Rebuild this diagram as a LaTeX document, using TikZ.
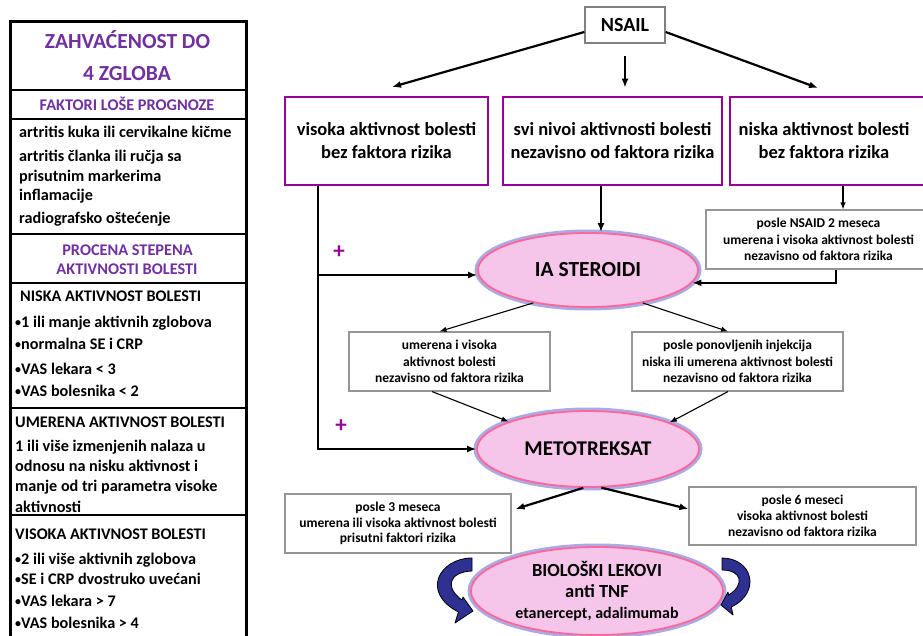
\documentclass[tikz,border=0pt]{standalone}
\usepackage{fontspec}
\setmainfont{Carlito}
\usetikzlibrary{shapes.geometric,arrows.meta}
\definecolor{boxpurple}{RGB}{153,0,153}
\definecolor{headpurple}{RGB}{112,48,160}
\definecolor{pinkfill}{RGB}{246,198,234}
\definecolor{pinkline}{RGB}{255,102,153}
\definecolor{glowc}{RGB}{170,170,228}
\definecolor{grayline}{RGB}{150,150,150}
\definecolor{navyc}{RGB}{46,49,146}
\newcommand{\bul}{\raisebox{1pt}{\fontsize{12}{12}\selectfont •}}
\begin{document}
\begin{tikzpicture}[x=1pt,y=-1pt,
  every node/.style={inner sep=0pt},
  pbox/.style={draw=boxpurple, line width=2.4pt, rectangle, fill=white},
  gbox/.style={draw=grayline, line width=1.1pt, fill=white, rectangle, align=center,
    font=\fontsize{13.5}{16.3}\selectfont\bfseries},
  btext/.style={align=center, font=\fontsize{18.5}{23}\selectfont\bfseries},
  ell/.style={ellipse, draw=pinkline, line width=1.8pt, fill=pinkfill, align=center,
    preaction={draw=glowc, line width=7pt}},
  thk/.style={line width=2.2pt, -{Latex[length=9pt,width=7pt]}},
  thn/.style={line width=1.1pt, -{Latex[length=7pt,width=5.5pt]}},
  ptext/.style={anchor=west, font=\fontsize{16.2}{19}\selectfont\bfseries, text height=11.5pt, text depth=3.7pt},
  phead/.style={font=\fontsize{16.3}{19}\selectfont\bfseries, text=headpurple, text height=10.5pt, text depth=0pt},
  ptitle/.style={font=\fontsize{21.5}{24}\selectfont\bfseries, text=headpurple, text height=13.8pt, text depth=0pt},
  plus/.style={font=\fontsize{23}{24}\selectfont\bfseries, text=boxpurple},
  curv/.style={fill=navyc, draw=black, line width=0.8pt, line join=round}
]
\useasboundingbox (0,0) rectangle (923,636);

% ---------- left panel ----------
\draw[line width=3pt] (10,22) rectangle (246,660);
\foreach \yy in {90,119,234,283,408,515}
  \draw[line width=1.5pt] (10,\yy) -- (246,\yy);

\node[ptitle] (t1) at (127.5,42) {ZAHVAĆENOST DO};
\node[ptitle] (t2) at (127,74) {4 ZGLOBA};
\node[phead] (t3) at (127,105) {FAKTORI LOŠE PROGNOZE};
\node[ptext] (l1) at (19,134) {artritis kuka ili cervikalne kičme};
\node[ptext] (l2) at (19,158) {artritis članka ili ručja sa};
\node[ptext] (l3) at (19,178) {prisutnim markerima};
\node[ptext] (l4) at (19,197) {inflamacije};
\node[ptext] (l5) at (19,220) {radiografsko oštećenje};
\node[phead] (h2a) at (127.5,250) {PROCENA STEPENA};
\node[phead] (h2b) at (127,269) {AKTIVNOSTI BOLESTI};
\node[ptext] (n0) at (20,298) {NISKA AKTIVNOST BOLESTI};
\node[ptext] (n1) at (15,324) {\bul1 ili manje aktivnih zglobova};
\node[ptext] (n2) at (15,346) {\bul normalna SE i CRP};
\node[ptext] (n3) at (15,371) {\bul VAS lekara < 3};
\node[ptext] (n4) at (15,393) {\bul VAS bolesnika < 2};
\node[ptext] (u0) at (15,424) {UMERENA AKTIVNOST BOLESTI};
\node[ptext] (u1) at (15,448) {1 ili više izmenjenih nalaza u};
\node[ptext] (u2) at (15,468) {odnosu na nisku aktivnost i};
\node[ptext] (u3) at (15,488) {manje od tri parametra visoke};
\node[ptext] (u4) at (15,509) {aktivnosti};
\node[ptext] (v0) at (15,536) {VISOKA AKTIVNOST BOLESTI};
\node[ptext] (v1) at (15,561) {\bul2 ili više aktivnih zglobova};
\node[ptext] (v2) at (15,581) {\bul SE i CRP dvostruko uvećani};
\node[ptext] (v3) at (15,603) {\bul VAS lekara > 7};
\node[ptext] (v4) at (15,625) {\bul VAS bolesnika > 4};

% ---------- flow chart ----------
\node[draw=grayline!85!black, line width=1.3pt, minimum width=80pt, minimum height=36pt,
  font=\fontsize{20}{24}\selectfont\bfseries] (ns) at (625,25) {NSAIL};

\node[pbox, btext, minimum width=203pt, minimum height=88pt] (b1) at (386.5,141)
  {visoka aktivnost bolesti\\bez faktora rizika};
\node[pbox, btext, minimum width=219pt, minimum height=88pt] (b2) at (612.5,141)
  {svi nivoi aktivnosti bolesti\\nezavisno od faktora rizika};
\node[pbox, minimum width=195pt, minimum height=88pt] (b3) at (827.5,141) {};
\node[btext] (b3t) at (824,141) {niska aktivnost bolesti\\bez faktora rizika};

\node[gbox, minimum width=225pt, minimum height=59pt] (sbT) at (818.5,239.5)
  {posle NSAID 2 meseca\\umerena i visoka aktivnost bolesti\\nezavisno od faktora rizika};

\node[ell, minimum width=220pt, minimum height=74pt, font=\fontsize{21.5}{24}\selectfont\bfseries]
  (ia) at (588,270) {IA STEROIDI};

\node[gbox, minimum width=201pt, minimum height=59pt] (sbL) at (449.5,361.5)
  {umerena i visoka\\aktivnost bolesti\\nezavisno od faktora rizika};
\node[gbox, minimum width=211pt, minimum height=59pt] (sbR) at (737.5,361.5)
  {posle ponovljenih injekcija\\niska ili umerena aktivnost bolesti\\nezavisno od faktora rizika};

\node[ell, minimum width=222pt, minimum height=76pt, font=\fontsize{21}{24}\selectfont\bfseries]
  (mtx) at (588,449) {METOTREKSAT};

\node[gbox, minimum width=226pt, minimum height=59pt, font=\fontsize{13.5}{15.5}\selectfont\bfseries]
  (sb3) at (398,523.5)
  {posle 3 meseca\\umerena ili visoka aktivnost bolesti\\prisutni faktori rizika};
\node[gbox, minimum width=227pt, minimum height=58pt] (sb6) at (802.5,516)
  {posle 6 meseci\\visoka aktivnost bolesti\\nezavisno od faktora rizika};

\node[ell, minimum width=252pt, minimum height=88pt, font=\fontsize{18.5}{21}\selectfont\bfseries]
  (bio) at (597,591) {BIOLOŠKI LEKOVI\\anti TNF\\{\fontsize{16}{21}\selectfont etanercept, adalimumab}};

\node[plus] (p1) at (339,252) {+};
\node[plus] (p2) at (341,426) {+};

% coordinates for free ends / guide lines
\coordinate (lx) at (318,300);
\coordinate (mx) at (601,200);
\coordinate (rx) at (843,200);
\coordinate (cx) at (836,200);
\coordinate (e1) at (392,87);
\coordinate (e3) at (818,88);

% connectors
\draw[thk] ([yshift=-7pt]ns.west) -- (e1);
\draw[thk] ([yshift=-12pt]ns.south) -- ([yshift=-44pt]ns.south);
\draw[thk] ([yshift=-7pt]ns.east) -- (e3);

\draw[thk] (b1.south -| lx) |- (mtx.west);
\draw[thk] (lx |- ia.west) ++(0,5) -- ([yshift=-5pt]ia.west);
\draw[thk] (b2.south -| mx) -- (ia.north -| mx);
\draw[thn] (b3.south -| rx) -- (sbT.north -| rx);
\draw[thk] (sbT.south -| cx) |- (ia.-7);

\draw[thn] (ia.211) -- ([xshift=-10pt]sbL.north);
\draw[thn] (ia.-31) -- ([xshift=-9.5pt]sbR.north);
\draw[thn] ([xshift=-17.5pt]sbL.south) -- (mtx.161);
\draw[thn] ([xshift=-9.5pt]sbR.south) -- (mtx.18);

\draw[thk] (mtx.-97) -- ([xshift=4pt,yshift=14.5pt]sb3.east);
\draw[thk] (mtx.-71) -- ([yshift=7pt]sb6.west);

% curved arrows around biologic therapy
\filldraw[curv] (472,558) .. controls (440,558) and (420,592) .. (458.4,612)
  -- (455,623) -- (473,611) -- (463,597) -- (462,600)
  .. controls (445,588) and (448,572) .. (472,571) -- cycle;
\filldraw[curv] (722,558) .. controls (752,558) and (762,592) .. (731.3,607)
  -- (733,615) -- (721,605) -- (728,592) -- (728.6,595)
  .. controls (745,585) and (742,570) .. (722,570) -- cycle;
\end{tikzpicture}
\end{document}
